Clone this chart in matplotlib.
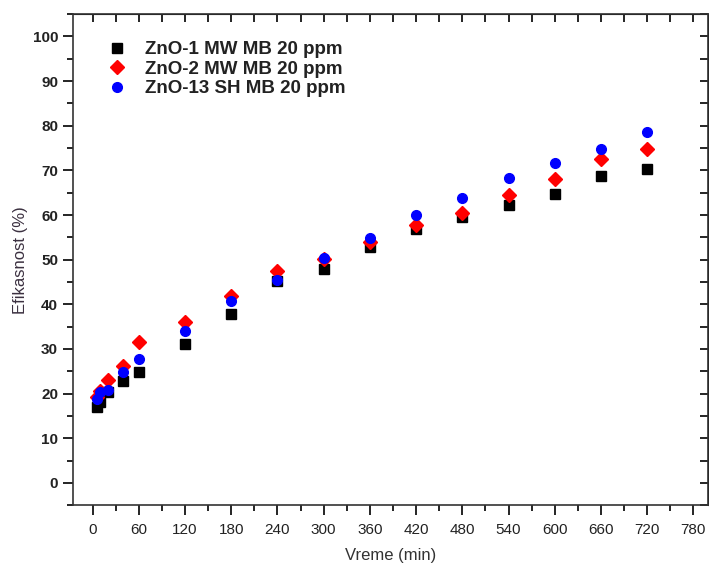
import matplotlib
matplotlib.use('Agg')
import matplotlib.pyplot as plt
from matplotlib.ticker import MultipleLocator

# time points (min)
vreme = [5, 10, 20, 40, 60, 120, 180, 240, 300, 360, 420, 480, 540, 600, 660, 720]

# efficiency (%) per sample
zno1_mw = [16.9, 18.1, 20.3, 22.9, 24.8, 31.1, 37.8, 45.2, 48.0, 52.8, 56.8, 59.6, 62.2, 64.7, 68.7, 70.4]
zno2_mw = [19.3, 20.5, 23.1, 26.2, 31.5, 36.1, 41.9, 47.5, 50.1, 53.9, 57.8, 60.5, 64.6, 68.1, 72.6, 74.7]
zno13_sh = [18.8, 20.4, 20.9, 24.9, 27.8, 34.0, 40.8, 45.4, 50.4, 54.9, 60.0, 63.8, 68.2, 71.6, 74.8, 78.6]

labels = ['ZnO-1 MW MB 20 ppm', 'ZnO-2 MW MB 20 ppm', 'ZnO-13 SH MB 20 ppm']
xticks = list(range(0, 781, 60))
yticks = list(range(0, 101, 10))

plt.rcParams['font.family'] = ['Liberation Sans', 'DejaVu Sans']

fig = plt.figure(figsize=(7.09, 5.67), dpi=100)
ax = fig.add_axes([0.1025, 0.109, 0.896, 0.866])

ax.plot(vreme, zno1_mw, 's', color='black', markersize=7, label=labels[0])
ax.plot(vreme, zno2_mw, 'D', color='red', markersize=7, label=labels[1])
ax.plot(vreme, zno13_sh, 'o', color='blue', markersize=7, label=labels[2])

ax.set_xlim(-26, 799)
ax.set_ylim(-5, 105)
ax.set_xticks(xticks)
ax.set_yticks(yticks)
ax.xaxis.set_minor_locator(MultipleLocator(30))
ax.yaxis.set_minor_locator(MultipleLocator(5))

ax.tick_params(which='both', direction='out', top=False, right=False, width=1.2)
ax.tick_params(which='major', length=7)
ax.tick_params(which='minor', length=4)
ax.tick_params(axis='y', labelsize=11)
ax.tick_params(axis='x', labelsize=11, pad=6)
for lab in ax.get_yticklabels():
    lab.set_fontweight('bold')
    lab.set_color('#222222')
for lab in ax.get_xticklabels():
    lab.set_fontfamily(['Liberation Sans Narrow', 'Liberation Sans'])
    lab.set_color('#222222')

# inward ticks on top and right
sec_x = ax.secondary_xaxis('top')
sec_x.set_xticks(xticks)
sec_x.xaxis.set_minor_locator(MultipleLocator(30))
sec_x.tick_params(which='both', direction='in', labeltop=False, width=1.2, length=6)
sec_y = ax.secondary_yaxis('right')
sec_y.set_yticks(yticks)
sec_y.yaxis.set_minor_locator(MultipleLocator(5))
sec_y.tick_params(which='both', direction='in', labelright=False, width=1.2, length=6)

for sp in ax.spines.values():
    sp.set_linewidth(1.2)
    sp.set_color('#333333')

ax.set_xlabel('Vreme (min)', fontsize=12, color='#333333', labelpad=8)
ax.set_ylabel('Efikasnost (%)', fontsize=12, color='#3b3040', labelpad=3)

leg = ax.legend(loc='upper left', bbox_to_anchor=(0.029, 0.96), frameon=False,
                prop={'size': 13.5, 'weight': 'bold'}, handletextpad=0.47,
                labelspacing=0.12, borderaxespad=0)
for t in leg.get_texts():
    t.set_color('#222222')

fig.savefig('out.png', dpi=100)
